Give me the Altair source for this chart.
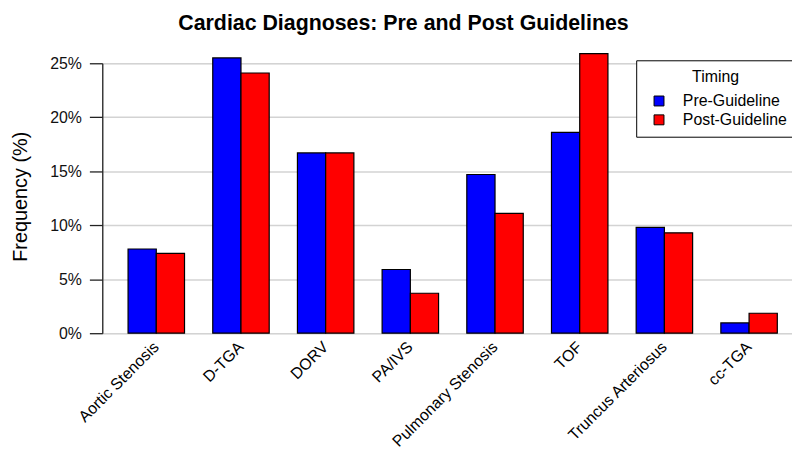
import altair as alt
import pandas as pd

diagnoses = ["Aortic Stenosis", "D-TGA", "DORV", "PA/IVS", "Pulmonary Stenosis",
             "TOF", "Truncus Arteriosus", "cc-TGA"]
pre = [7.8, 25.5, 16.7, 5.9, 14.7, 18.6, 9.8, 0.95]
post = [7.4, 24.1, 16.7, 3.7, 11.1, 25.9, 9.3, 1.85]
timings = ["Pre-Guideline", "Post-Guideline"]
colors = ["#0000ff", "#ff0000"]
y_ticks = [0, 5, 10, 15, 20, 25]

rows = []
for d, a, b in zip(diagnoses, pre, post):
    rows.append({"Diagnosis": d, "Timing": timings[0], "Frequency": a})
    rows.append({"Diagnosis": d, "Timing": timings[1], "Frequency": b})
df = pd.DataFrame(rows)

FONT = "Liberation Sans"

chart = alt.Chart(df).mark_bar(stroke="black", strokeWidth=1.2).encode(
    x=alt.X("Diagnosis:N", sort=diagnoses,
            scale=alt.Scale(paddingInner=1/3, paddingOuter=0.239, align=0.637),
            axis=alt.Axis(title=None, labelAngle=315, labelAlign="right",
                          labelBaseline="middle", domain=False, ticks=False,
                          labelFontSize=16, labelPadding=11, labelColor="black",
                          labelFont=FONT, grid=False)),
    xOffset=alt.XOffset("Timing:N", sort=timings,
                        scale=alt.Scale(domain=timings, paddingInner=0, paddingOuter=0)),
    y=alt.Y("Frequency:Q", scale=alt.Scale(domain=[0, 25], nice=False),
            axis=alt.Axis(values=y_ticks, labelExpr="datum.value + '%'",
                          title="Frequency (%)", titleFontSize=20,
                          titleFontWeight="normal", titleFont=FONT,
                          titleColor="black", titlePadding=19, titleY=134,
                          labelFontSize=16, labelFont=FONT, labelColor="#111",
                          labelPadding=8, tickSize=13, tickWidth=1.3,
                          tickColor="#222", domainColor="#222", domainWidth=1.3,
                          grid=True, gridColor="#d3d3d3", gridWidth=1.5)),
    color=alt.Color("Timing:N", sort=timings,
                    scale=alt.Scale(domain=timings, range=colors),
                    legend=alt.Legend(orient="none", legendX=538, legendY=-3,
                                      strokeColor="black", fillColor="white",
                                      padding=9, symbolOffset=6,
                                      symbolType="square", symbolSize=100,
                                      symbolStrokeColor="black",
                                      symbolStrokeWidth=1, symbolOpacity=1,
                                      labelFontSize=16, labelFont=FONT,
                                      labelColor="black", labelOffset=16,
                                      titleFontSize=16, titleFont=FONT,
                                      titleFontWeight="normal", titleColor="black",
                                      titleAnchor="middle", titlePadding=8,
                                      rowPadding=3)),
).properties(
    width=695, height=272,
    title=alt.Title("Cardiac Diagnoses: Pre and Post Guidelines", fontSize=21.5,
                    fontWeight="bold", font=FONT, color="black",
                    anchor="middle", dx=-44, offset=19),
    autosize=alt.AutoSizeParams(type="none"),
    padding={"left": 95, "top": 54, "right": 0, "bottom": 118},
).configure_view(stroke=None).configure(font=FONT)

chart.save("out.html", embed_options={"renderer": "svg", "actions": False})
